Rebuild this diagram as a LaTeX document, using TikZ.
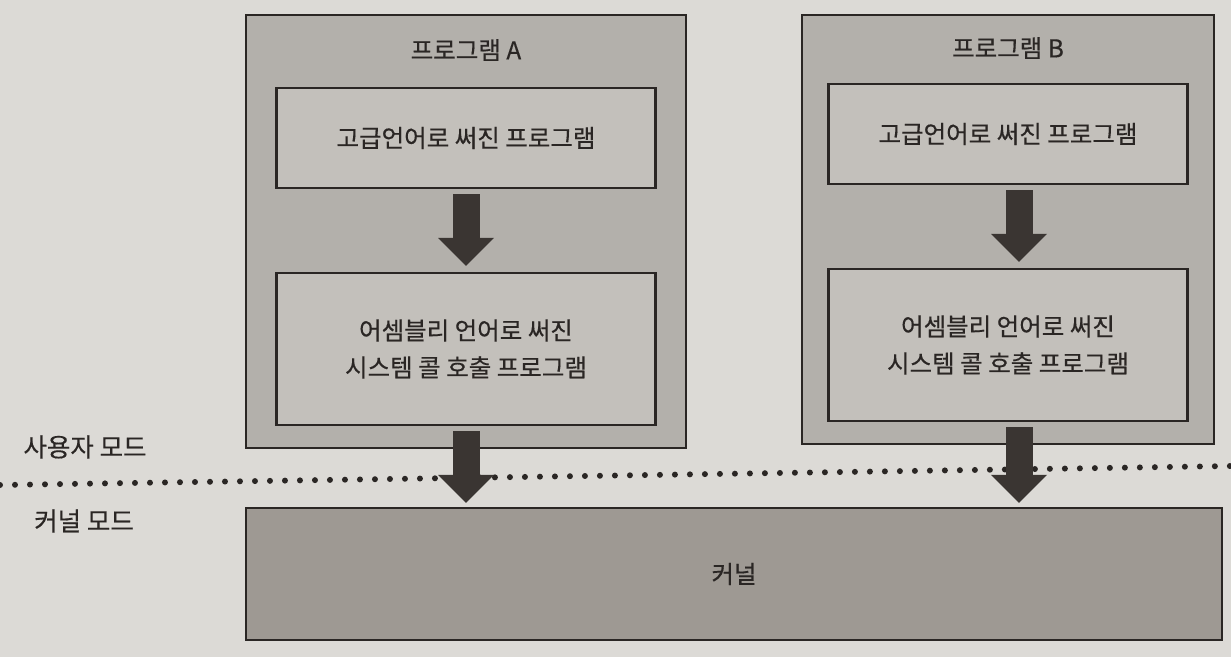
\documentclass[tikz,border=0pt]{standalone}
\usepackage{fontspec}
\setmainfont{Noto Sans CJK KR}[FakeBold=0.4]
\usetikzlibrary{arrows.meta}

\definecolor{paper}{HTML}{DCDAD6}
\definecolor{outerfill}{HTML}{B3B0AB}
\definecolor{innerfill}{HTML}{C3C0BB}
\definecolor{kernelfill}{HTML}{9E9993}
\definecolor{ink}{HTML}{2A2624}
\definecolor{arrowfill}{HTML}{3A3532}

\tikzset{
  txt/.style={font=\fontsize{24.5}{37}\selectfont, text=ink, align=center},
  sidetxt/.style={font=\fontsize{25.5}{30}\selectfont, text=ink},
  progbox/.style={draw=ink, line width=2.2pt, fill=outerfill, inner sep=0pt},
  codebox/.style={txt, draw=ink, line width=2.2pt, fill=innerfill, inner sep=0pt},
  kernelbox/.style={txt, draw=ink, line width=2.2pt, fill=kernelfill, inner sep=0pt},
  bigarrow/.style={draw=arrowfill, line width=27pt,
    -{Triangle[width=56pt,length=28pt,line width=0pt]}, shorten <=5pt, shorten >=6pt},
}

\begin{document}
\begin{tikzpicture}[x=1pt,y=-1pt]
\fill[paper] (0,0) rectangle (1231,657);
\useasboundingbox (0,0) rectangle (1231,657);

% user / kernel border
\coordinate (borderL) at (0,485);
\coordinate (borderR) at (1231,466);
\draw[ink, line width=6pt, line cap=round, dash pattern=on 0pt off 15pt] (borderL) -- (borderR);
\node[sidetxt] (usermode) at (85,447) {사용자 모드};
\node[sidetxt] (kernelmode) at (84,521) {커널 모드};

% kernel
\node[kernelbox, minimum width=976, minimum height=132] (kernel) at (734,574) {커널};

% programs
\foreach \p/\cx/\ow/\iw/\dy/\ax in {A/466/440/379/0/0, B/1008/412/359/-4/11} {
    \node[progbox, minimum width=\ow, minimum height={433+\dy}] (prog\p) at (\cx,{231.5+\dy/2}) {};
    \node[txt] (title\p) at (\cx,{50+\dy/2}) {프로그램 \p};
    \node[codebox, minimum width=\iw, minimum height=100] (high\p) at (\cx,{138+\dy}) {고급언어로 써진 프로그램};
    \node[codebox, minimum width=\iw, minimum height=152] (asm\p) at (\cx,{349+\dy}) {어셈블리 언어로 써진\\시스템 콜 호출 프로그램};
    \draw[bigarrow] ([xshift=\ax pt]high\p.south) -- ([xshift=\ax pt]asm\p.north);
    \draw[bigarrow, shorten >=4pt] ([xshift=\ax pt]asm\p.south) -- ([xshift=\ax pt]asm\p.south |- kernel.north);
}
\end{tikzpicture}
\end{document}
